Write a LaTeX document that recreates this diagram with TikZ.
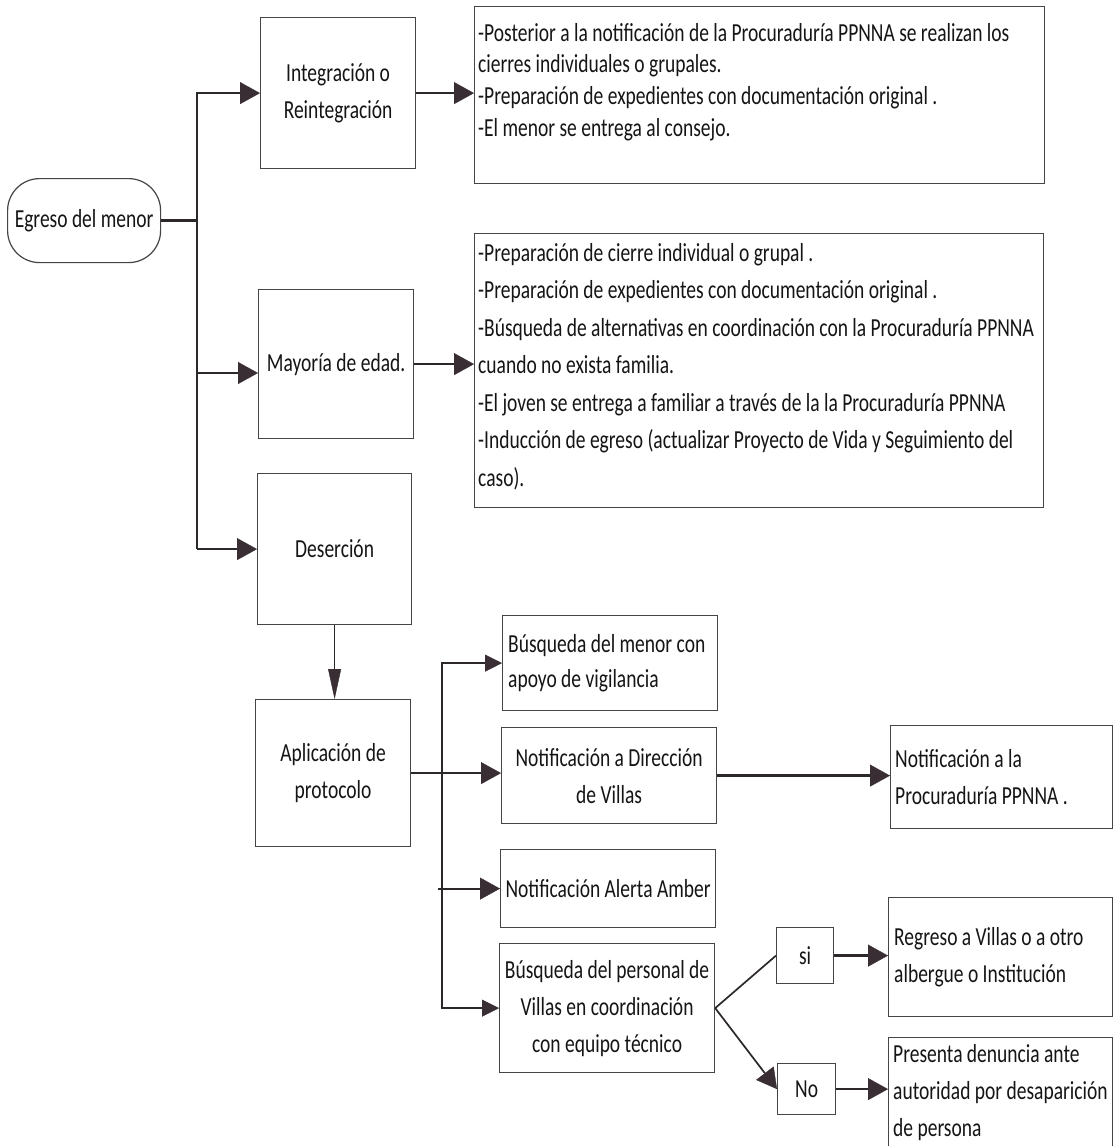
\documentclass[tikz,border=0pt]{standalone}
\usepackage{fontspec}
\setmainfont{Carlito}[FakeStretch=0.75]
\usetikzlibrary{arrows.meta}
\definecolor{linec}{HTML}{2B272A}
\definecolor{tipc}{HTML}{3A2E35}
\definecolor{boxc}{HTML}{454545}
\definecolor{txtc}{HTML}{151515}
\tikzset{
  box/.style={draw=boxc, line width=1.2pt, anchor=north west, inner xsep=5pt, inner ysep=0pt,
    text=txtc, font=\fontsize{26}{37}\selectfont},
  txt/.style={anchor=north west, inner sep=0pt, text=txtc, align=left},
  ltxt/.style={anchor=west, inner sep=0pt, text=txtc, align=left, font=\fontsize{26}{37}\selectfont},
  bigtip/.tip={Triangle[length=20pt,width=22pt,line width=0.4pt,color=tipc]},
  smalltip/.tip={Triangle[length=17pt,width=17pt,line width=0.4pt,color=tipc]},
  longtip/.tip={Triangle[length=30pt,width=13pt,line width=0.4pt,color=tipc]},
  conn/.style={draw=linec, line width=2.6pt},
  arr/.style={conn, -bigtip},
  thinc/.style={draw=linec, line width=1.4pt},
}
\begin{document}
\begin{tikzpicture}[x=1pt,y=-1pt]
\fill[white] (0,0) rectangle (1113,1146);
\clip (0,0) rectangle (1113,1146);

% nodes
\node[box, rounded corners=32pt, minimum width=153pt, minimum height=84pt, align=center] (egreso) at (7,178) {Egreso del menor};
\node[box, minimum width=155pt, minimum height=151pt, align=center] (integ) at (260,17) {Integración o\\Reintegración};
\node[box, minimum width=570pt, minimum height=177pt] (t1) at (474,6) {};
\node[txt, font=\fontsize{26}{31.7}\selectfont] (t1t) at (478,23) {-Posterior a la notificación de la Procuraduría PPNNA se realizan los\\cierres individuales o grupales.\\-Preparación de expedientes con documentación original\,.\\-El menor se entrega al consejo.};
\node[box, minimum width=155pt, minimum height=149pt, align=center] (mayor) at (258,289) {Mayoría de edad.};
\node[box, minimum width=569pt, minimum height=274pt] (t2) at (474,233) {};
\node[txt, font=\fontsize{26}{37.5}\selectfont] (t2t) at (478,243) {-Preparación de cierre individual o grupal\,.\\-Preparación de expedientes con documentación original\,.\\-Búsqueda de alternativas en coordinación con la Procuraduría PPNNA\\cuando no exista familia.\\-El joven se entrega a familiar a través de la la Procuraduría PPNNA\\-Inducción de egreso (actualizar Proyecto de Vida y Seguimiento del\\caso).};
\node[box, minimum width=154pt, minimum height=151pt, align=center] (deser) at (257,473) {Deserción};
\node[box, minimum width=155pt, minimum height=147pt, align=center] (aplic) at (255,699) {Aplicación de\\protocolo};
\node[box, minimum width=215pt, minimum height=95pt] (bmenor) at (502,615) {};
\node[ltxt, font=\fontsize{26}{35}\selectfont] (bmenort) at ([xshift=6pt]bmenor.west) {Búsqueda del menor con\\apoyo de vigilancia};
\node[box, minimum width=215pt, minimum height=96pt, align=center] (dir) at (501,727) {Notificación a Dirección\\de Villas};
\node[box, minimum width=215pt, minimum height=78pt, inner xsep=3pt, align=center] (alerta) at (500,849) {Notificación Alerta Amber};
\node[box, minimum width=215pt, minimum height=129pt, align=center] (bpers) at (499,943) {Búsqueda del personal de\\Villas en coordinación\\con equipo técnico};
\node[box, minimum width=222pt, minimum height=103pt] (notif) at (890,725) {};
\node[ltxt] (notift) at ([xshift=5pt]notif.west) {Notificación a la\\Procuraduría PPNNA\,.};
\node[box, minimum width=57pt, minimum height=56pt, align=center] (si) at (776,927) {si};
\node[box, minimum width=58pt, minimum height=51pt, align=center] (no) at (777,1063) {No};
\node[box, minimum width=224pt, minimum height=119pt] (regreso) at (888,897) {};
\node[ltxt] (regresot) at ([xshift=6pt]regreso.west) {Regreso a Villas o a otro\\albergue o Institución};
\node[box, minimum width=224pt, minimum height=110pt] (presenta) at (888,1037) {};
\node[ltxt] (presentat) at ([xshift=5pt]presenta.west) {Presenta denuncia ante\\autoridad por desaparición\\de persona};

% helper coordinates
\coordinate (tx) at (197,0);
\coordinate (jM) at (197,373);
\coordinate (bx) at (442,0);
\coordinate (ax) at (438,0);

% connectors
\draw[conn] (egreso.east) -- (egreso.east -| tx);
\draw[arr] (deser.west -| tx) |- (integ.west);
\draw[arr] (jM) -- (jM -| mayor.west);
\draw[arr] (deser.west -| tx) -- (deser.west);
\draw[arr] (integ.east) -- (integ.east -| t1.west);
\draw[arr] (mayor.east) -- (mayor.east -| t2.west);
\draw[thinc, -longtip] (deser.south) -- (deser.south |- aplic.north);
\draw[arr] (aplic.east) -- (aplic.east -| dir.west);
\draw[thinc, smalltip-smalltip] (bmenor.west) -| (bpers.west -| bx) -- (bpers.west);
\draw[conn, line width=2.2pt, -bigtip] (alerta.west -| ax) -- (alerta.west);
\draw[arr] (dir.east) -- (dir.east -| notif.west);
\draw[thinc, line width=1.7pt] (bpers.east) -- (si.west);
\draw[thinc, line width=1.7pt, -bigtip] (bpers.east) -- (no.west);
\draw[arr] (si.east) -- (si.east -| regreso.west);
\draw[arr] (no.east) -- (no.east -| presenta.west);
\end{tikzpicture}
\end{document}
